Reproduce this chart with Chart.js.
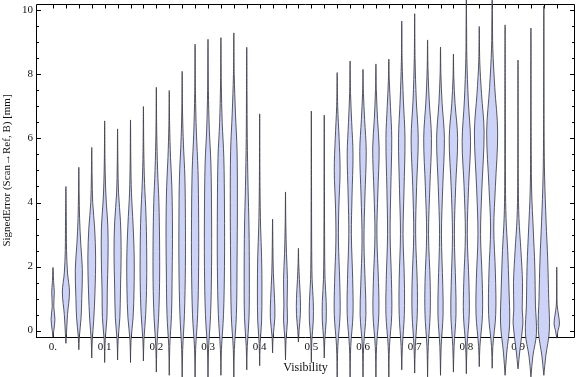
<!DOCTYPE html>
<html>
<head>
<meta charset="utf-8">
<script src="https://cdn.jsdelivr.net/npm/chart.js@4.4.1/dist/chart.umd.min.js"></script>
<style>
  html, body { margin: 0; padding: 0; background: #fff; }
  #wrap { width: 576px; height: 377px; }
</style>
</head>
<body>
<div id="wrap"><canvas id="chart"></canvas></div>
<script>
// violin positions (visibility)
var visibility = [0, 0.025, 0.05, 0.075, 0.1, 0.125, 0.15, 0.175, 0.2, 0.225,
  0.25, 0.275, 0.3, 0.325, 0.35, 0.375, 0.4, 0.425, 0.45, 0.475,
  0.5, 0.525, 0.55, 0.575, 0.6, 0.625, 0.65, 0.675, 0.7, 0.725,
  0.75, 0.775, 0.8, 0.825, 0.85, 0.875, 0.9, 0.925, 0.95, 0.975];

// lowest / highest signed error of each violin [mm]
var errorMin = [-0.2, -0.4, -0.6, -0.86, -1.0, -0.92, -1.0, -0.95, -1.3, -1.4,
  -1.5, -1.5, -1.5, -1.4, -1.5, -1.23, -1.1, -0.7, -0.92, -0.36,
  -1.0, -0.86, -1.5, -1.5, -1.5, -1.5, -1.5, -1.23, -1.33, -1.45,
  -1.4, -1.3, -1.35, -1.13, -1.18, -1.4, -1.2, -1.45, -1.4, -0.24];
var errorMax = [1.97, 4.5, 5.1, 5.72, 6.55, 6.3, 6.58, 7.0, 7.6, 7.5,
  8.1, 8.95, 9.1, 9.15, 9.3, 8.85, 6.77, 3.48, 4.33, 2.57,
  6.86, 6.73, 8.06, 8.42, 8.16, 8.33, 8.48, 9.67, 9.9, 9.08,
  8.86, 8.64, 10.45, 9.5, 10.45, 9.55, 8.45, 9.45, 10.14, 1.98];

// density profile of each violin: [error, relative density]
var density = [
  [[0, 0.12], [0.35, 0.3], [0.75, 0.12], [1.2, 0.2], [1.5, 0.1]],
  [[-0.1, 0.08], [0.5, 0.25], [1.2, 0.55], [1.8, 0.25], [2.5, 0.1], [3.5, 0.06]],
  [[-0.2, 0.08], [0.4, 0.35], [1.0, 0.45], [1.9, 0.55], [2.7, 0.3], [3.5, 0.12], [4.3, 0.05]],
  [[-0.3, 0.08], [0.3, 0.3], [1.2, 0.5], [2.3, 0.6], [3.2, 0.45], [4.0, 0.15], [4.8, 0.06]],
  [[-0.3, 0.08], [0.4, 0.35], [1.2, 0.4], [2.3, 0.52], [3.2, 0.5], [4.2, 0.2], [5.2, 0.06]],
  [[-0.3, 0.08], [0.4, 0.35], [1.3, 0.45], [2.5, 0.55], [3.4, 0.45], [4.3, 0.15], [5.2, 0.05]],
  [[-0.3, 0.08], [0.4, 0.4], [1.3, 0.55], [2.3, 0.57], [3.3, 0.4], [4.3, 0.15], [5.3, 0.05]],
  [[-0.3, 0.08], [0.5, 0.35], [1.5, 0.5], [2.6, 0.5], [3.6, 0.4], [4.6, 0.18], [5.6, 0.06]],
  [[-0.5, 0.08], [0.4, 0.35], [1.5, 0.5], [2.8, 0.5], [4.0, 0.4], [5.0, 0.2], [6.2, 0.06]],
  [[-0.5, 0.08], [0.5, 0.35], [1.8, 0.45], [3.2, 0.5], [4.5, 0.4], [5.4, 0.2], [6.4, 0.06]],
  [[-0.6, 0.08], [0.5, 0.35], [2.0, 0.5], [3.5, 0.5], [4.8, 0.42], [5.8, 0.2], [6.8, 0.06]],
  [[-0.6, 0.08], [0.5, 0.4], [2.0, 0.55], [3.5, 0.55], [5.0, 0.45], [6.2, 0.2], [7.4, 0.06]],
  [[-0.6, 0.08], [0.5, 0.4], [2.0, 0.55], [3.7, 0.55], [5.2, 0.45], [6.3, 0.2], [7.5, 0.06]],
  [[-0.6, 0.08], [0.5, 0.4], [2.0, 0.55], [3.8, 0.55], [5.4, 0.45], [6.5, 0.2], [7.7, 0.06]],
  [[-0.6, 0.08], [0.5, 0.4], [2.2, 0.5], [4.0, 0.55], [5.6, 0.5], [6.8, 0.25], [8.0, 0.06]],
  [[-0.5, 0.08], [0.4, 0.35], [1.8, 0.4], [3.2, 0.35], [4.5, 0.2], [6.0, 0.08], [7.5, 0.04]],
  [[-0.4, 0.08], [0.3, 0.3], [1.2, 0.35], [2.3, 0.3], [3.2, 0.15], [4.5, 0.05]],
  [[-0.2, 0.08], [0.4, 0.35], [1.0, 0.3], [1.8, 0.12], [2.6, 0.05]],
  [[-0.3, 0.08], [0.3, 0.3], [0.8, 0.25], [1.6, 0.3], [2.4, 0.15], [3.3, 0.05]],
  [[0, 0.1], [0.5, 0.3], [1.0, 0.3], [1.6, 0.15], [2.1, 0.05]],
  [[-0.3, 0.08], [0.3, 0.3], [0.9, 0.3], [1.6, 0.12], [2.8, 0.05], [4.5, 0.03]],
  [[-0.3, 0.08], [0.3, 0.3], [0.9, 0.3], [1.6, 0.12], [3.0, 0.05], [4.8, 0.03]],
  [[-0.5, 0.1], [0.5, 0.45], [1.5, 0.4], [2.8, 0.2], [3.8, 0.25], [5.0, 0.45], [6.0, 0.3], [7.0, 0.08]],
  [[-0.5, 0.1], [0.5, 0.45], [1.6, 0.4], [3.0, 0.2], [4.2, 0.3], [5.5, 0.45], [6.5, 0.25], [7.4, 0.07]],
  [[-0.5, 0.1], [0.5, 0.45], [1.4, 0.35], [2.8, 0.15], [4.2, 0.3], [5.6, 0.5], [6.6, 0.25], [7.4, 0.07]],
  [[-0.5, 0.1], [0.5, 0.45], [1.5, 0.4], [3.0, 0.15], [4.3, 0.3], [5.7, 0.5], [6.6, 0.25], [7.5, 0.07]],
  [[-0.5, 0.1], [0.5, 0.45], [1.6, 0.4], [3.0, 0.2], [4.4, 0.3], [6.0, 0.45], [7.0, 0.25], [7.8, 0.07]],
  [[-0.5, 0.1], [0.5, 0.4], [1.6, 0.4], [3.0, 0.2], [4.4, 0.35], [6.0, 0.5], [7.2, 0.25], [8.4, 0.06]],
  [[-0.5, 0.1], [0.5, 0.4], [1.5, 0.4], [3.0, 0.15], [4.5, 0.3], [6.0, 0.55], [7.2, 0.25], [8.5, 0.06]],
  [[-0.5, 0.1], [0.5, 0.4], [1.5, 0.4], [3.0, 0.15], [4.5, 0.35], [6.0, 0.6], [7.2, 0.25], [8.2, 0.06]],
  [[-0.5, 0.1], [0.5, 0.4], [1.4, 0.35], [3.0, 0.15], [4.5, 0.35], [6.0, 0.6], [7.1, 0.25], [8.0, 0.06]],
  [[-0.5, 0.1], [0.5, 0.4], [1.4, 0.35], [3.0, 0.15], [4.5, 0.35], [6.0, 0.65], [7.1, 0.25], [7.9, 0.06]],
  [[-0.5, 0.1], [0.5, 0.45], [1.5, 0.4], [3.0, 0.15], [4.5, 0.35], [5.9, 0.65], [7.2, 0.3], [8.5, 0.08], [9.5, 0.04]],
  [[-0.5, 0.1], [0.5, 0.5], [1.6, 0.45], [3.0, 0.2], [4.4, 0.4], [6.2, 0.75], [7.4, 0.35], [8.4, 0.08]],
  [[-0.5, 0.1], [0.5, 0.55], [1.8, 0.5], [3.2, 0.25], [4.5, 0.5], [6.2, 0.85], [7.6, 0.4], [8.8, 0.1], [9.8, 0.04]],
  [[-0.7, 0.25], [0.2, 0.7], [1.3, 0.6], [2.5, 0.4], [3.5, 0.15], [4.5, 0.06], [6.5, 0.04]],
  [[-0.6, 0.3], [0.2, 0.75], [0.7, 0.65], [1.5, 0.7], [2.5, 0.45], [3.5, 0.15], [4.5, 0.05]],
  [[-0.8, 0.3], [-0.1, 0.85], [0.8, 0.7], [2.0, 0.6], [3.2, 0.35], [4.3, 0.12], [5.5, 0.05]],
  [[-0.8, 0.3], [0.0, 0.85], [1.0, 0.75], [2.2, 0.6], [3.4, 0.35], [4.8, 0.12], [6.0, 0.05]],
  [[0, 0.2], [0.2, 0.42], [0.45, 0.3], [0.8, 0.06], [1.3, 0.03]]
];

var xTickValues = [0, 0.1, 0.2, 0.3, 0.4, 0.5, 0.6, 0.7, 0.8, 0.9];
var xTickLabels = ["0.", "0.1", "0.2", "0.3", "0.4", "0.5", "0.6", "0.7", "0.8", "0.9"];
var yTickValues = [0, 2, 4, 6, 8, 10];

var X_MIN = -0.0329, X_MAX = 1.0103;
var Y_MIN = -1.453, Y_MAX = 10.203;
var AXIS_Y = -0.2;       // where the bottom axis crosses
var HALF_WIDTH = 0.0125; // visibility units for a density of 1

Chart.defaults.font.family = "'Liberation Serif', 'Times New Roman', serif";
Chart.defaults.color = '#111';

// outline of one violin, up the right side and back down the left
function violinOutline(i) {
  var v = visibility[i];
  var knots = density[i];
  var pts = [{x: v, y: errorMin[i]}];
  for (var j = 0; j < knots.length; j++) {
    pts.push({x: v + knots[j][1] * HALF_WIDTH, y: knots[j][0]});
  }
  pts.push({x: v, y: errorMax[i]});
  for (var k = knots.length - 1; k >= 0; k--) {
    pts.push({x: v - knots[k][1] * HALF_WIDTH, y: knots[k][0]});
  }
  pts.push({x: v, y: errorMin[i]});
  return pts;
}

var datasets = [];
for (var i = 0; i < visibility.length; i++) {
  datasets.push({
    data: violinOutline(i),
    showLine: true,
    fill: 'shape',
    backgroundColor: '#cdd3f6',
    borderColor: 'rgba(60,60,70,0.85)',
    borderWidth: 1,
    tension: 0.35,
    pointRadius: 0,
    clip: false
  });
}

// frame with inward ticks, as Mathematica draws it
var framePlugin = {
  id: 'frame',
  afterLayout: function(chart) {
    // the y title is centred on the framed part only (above the crossing axis)
    var ys = chart.scales.y;
    ys.bottom = Math.round(ys.getPixelForValue(AXIS_Y));
  },
  beforeDatasetsDraw: function(chart) {
    var ctx = chart.ctx;
    var xs = chart.scales.x, ys = chart.scales.y;
    var area = chart.chartArea;
    var left = area.left + 0.5, right = area.right - 0.5, top = area.top + 0.5;
    var bottom = Math.round(ys.getPixelForValue(AXIS_Y)) + 0.5;
    ctx.save();
    ctx.strokeStyle = '#000';
    ctx.lineWidth = 1;
    ctx.beginPath();
    ctx.moveTo(left, top); ctx.lineTo(right, top); ctx.lineTo(right, bottom);
    ctx.moveTo(left - 0.5, bottom); ctx.lineTo(right, bottom);
    ctx.moveTo(left, top); ctx.lineTo(left, bottom);
    // x ticks at every violin
    visibility.forEach(function(v) {
      var px = Math.round(xs.getPixelForValue(v)) + 0.5;
      ctx.moveTo(px, top); ctx.lineTo(px, top + 4);
      ctx.moveTo(px, bottom); ctx.lineTo(px, bottom - 4);
    });
    // y ticks every 0.5
    for (var t = 0; t <= 20; t++) {
      var val = t / 2;
      var py = Math.round(ys.getPixelForValue(val)) + 0.5;
      var len = (val % 2 === 0) ? 4.5 : 2.5;
      ctx.moveTo(left, py); ctx.lineTo(left + len, py);
      ctx.moveTo(right, py); ctx.lineTo(right - len, py);
    }
    ctx.stroke();
    ctx.restore();
  }
};

new Chart(document.getElementById('chart'), {
  type: 'scatter',
  data: { datasets: datasets },
  options: {
    responsive: true,
    maintainAspectRatio: false,
    animation: false,
    devicePixelRatio: 1,
    layout: { padding: { top: 4, right: 1, left: 0, bottom: 0 } },
    elements: { line: { capBezierPoints: false } },
    plugins: { legend: { display: false }, tooltip: { enabled: false } },
    scales: {
      x: {
        type: 'linear',
        position: { y: AXIS_Y },
        min: X_MIN,
        max: X_MAX,
        grid: { display: false, drawTicks: false },
        border: { display: false },
        afterBuildTicks: function(scale) {
          scale.ticks = xTickValues.map(function(v) { return {value: v}; });
        },
        afterFit: function(scale) {
          scale.height = 40;
          scale.paddingLeft = 0;
          scale.paddingRight = 0;
        },
        ticks: {
          padding: 4,
          maxRotation: 0,
          autoSkip: false,
          font: { size: 11 },
          callback: function(value, index) { return xTickLabels[index]; }
        },
        title: {
          display: true,
          text: 'Visibility',
          font: { size: 12 },
          padding: { top: 0, bottom: 2 }
        }
      },
      y: {
        type: 'linear',
        position: 'left',
        min: Y_MIN,
        max: Y_MAX,
        grid: { display: false, drawTicks: false },
        border: { display: false },
        afterBuildTicks: function(scale) {
          scale.ticks = yTickValues.map(function(v) { return {value: v}; });
        },
        afterFit: function(scale) {
          scale.width = 36;
          scale.paddingTop = 0;
          scale.paddingBottom = 0;
        },
        ticks: {
          padding: 3,
          font: { size: 11 },
          callback: function(value) { return String(value); }
        },
        title: {
          display: true,
          text: 'SignedError (Scan\u2192Ref, B) [mm]',
          font: { size: 11 },
          padding: { top: 1, bottom: 0 }
        }
      }
    }
  },
  plugins: [framePlugin]
});
</script>
</body>
</html>
